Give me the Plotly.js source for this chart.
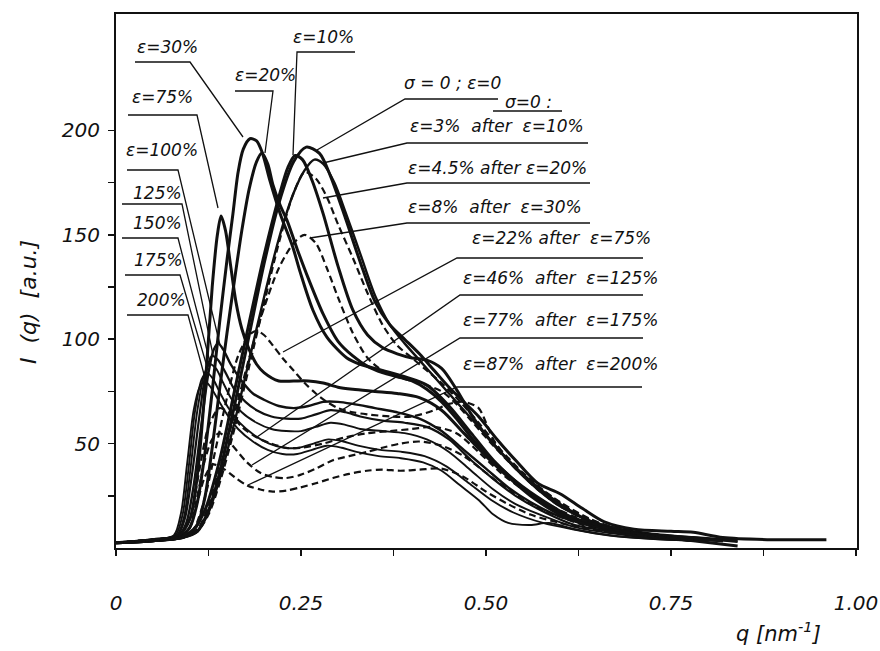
<!DOCTYPE html>
<html><head><meta charset="utf-8">
<script src="https://cdn.plot.ly/plotly-3.0.1.min.js"></script>
<style>html,body{margin:0;padding:0;background:#fff}#chart{width:880px;height:651px}</style>
</head><body><div id="chart"></div>
<script>
// ---- data: q [nm^-1], I(q) [a.u.] ----
const q_eps0 = [0,0.05,0.09,0.11,0.125,0.14,0.16,0.18,0.2,0.22,0.24,0.257,0.275,0.29,0.31,0.33,0.35,0.37,0.39,0.41,0.43,0.45,0.47,0.49,0.515,0.54,0.57,0.6,0.63,0.66,0.7,0.75,0.78,0.82,0.88,0.96];
const I_eps0 = [2.5,3.5,5,8,18,36,68,102,136,165,185,192,189,178,158,137,118,107,100,93,85,77,70,63,52,42,31,26,19,12.5,9,8,7.5,5,4,4];

const q_r3 = [0,0.05,0.09,0.11,0.125,0.14,0.16,0.18,0.2,0.22,0.24,0.255,0.268,0.28,0.295,0.31,0.33,0.35,0.37,0.39,0.41,0.43,0.45,0.48,0.51,0.54,0.57,0.6,0.64,0.68,0.72,0.78,0.84];
const I_r3 = [2.5,3.5,5,8,17,33,60,90,120,148,170,181,186,184,175,161,141,121,107,98,90,82,74,62,50,38,28,20,13,9,7,5,3];

const q_r45 = [0,0.05,0.09,0.11,0.125,0.14,0.16,0.18,0.2,0.22,0.24,0.255,0.27,0.285,0.3,0.32,0.34,0.36,0.38,0.4,0.42,0.44,0.46,0.49,0.52,0.55,0.58,0.62,0.66,0.7,0.76,0.82];
const I_r45 = [2.5,3.5,5,8,16,31,57,87,117,146,170,180,177,168,155,139,122,107,97,91,85,79,72,60,47,36,27,17,11,8,5,3.5];

const q_r8 = [0,0.05,0.09,0.11,0.125,0.14,0.16,0.18,0.2,0.22,0.24,0.255,0.27,0.285,0.3,0.32,0.34,0.36,0.38,0.4,0.42,0.44,0.46,0.48,0.51,0.54,0.57,0.6,0.64,0.68,0.72,0.78];
const I_r8 = [2.5,3.5,5,9,20,38,64,91,115,134,146,150,146,134,120,103,91,85,82,80,78,75,69,61,49,38,28,20,13,9,6,4];

const q_e10 = [0,0.05,0.09,0.105,0.12,0.14,0.16,0.18,0.2,0.22,0.232,0.242,0.252,0.265,0.28,0.3,0.32,0.34,0.36,0.38,0.4,0.42,0.44,0.46,0.48,0.5,0.53,0.56,0.6,0.64,0.68,0.72,0.78,0.84];
const I_e10 = [2.5,3.5,5.5,9,18,42,75,108,140,168,182,188,186,176,160,135,114,102,96,93,91,90,86,76,64,54,42,32,21,13,9,6,3.5,1];

const q_e20 = [0,0.05,0.09,0.1,0.11,0.12,0.13,0.14,0.15,0.16,0.17,0.18,0.19,0.197,0.205,0.212,0.222,0.231,0.245,0.26,0.28,0.3,0.32,0.34,0.36,0.38,0.4,0.42,0.44,0.46,0.48,0.5,0.53,0.56,0.6,0.65,0.7,0.76,0.82];
const I_e20 = [2.5,3.5,5,7,11,24,48,76,103,128,152,172,185,189,184,174,164,157,143,129,112,99,92,87,84,82,80,76,70,62,53,45,35,26,17,11,7.5,5,3.5];

const q_e30 = [0,0.05,0.085,0.1,0.11,0.12,0.13,0.14,0.15,0.158,0.165,0.172,0.181,0.19,0.198,0.208,0.222,0.239,0.249,0.266,0.285,0.312,0.33,0.36,0.39,0.42,0.45,0.48,0.51,0.54,0.58,0.62,0.67,0.72,0.78,0.84];
const I_e30 = [2.5,3.5,5,10,22,45,75,108,138,160,180,191,196,195,189,176,160,144,132,114,101,91,88,85,82,78,68,55,42,32,22,14,9,6.5,5,3.5];

const q_e75 = [0,0.05,0.085,0.1,0.11,0.12,0.13,0.137,0.142,0.148,0.155,0.162,0.17,0.18,0.19,0.2,0.22,0.24,0.26,0.28,0.3,0.32,0.35,0.38,0.41,0.44,0.47,0.5,0.53,0.56,0.6,0.65,0.7,0.76,0.82];
const I_e75 = [2.5,4,6,14,35,75,125,150,159,152,135,118,105,95,88,84,80,80,80,79,77,76,75,74,72,66,55,44,34,25,16,10,7,5,3.5];

const q_e100 = [0,0.05,0.085,0.095,0.105,0.115,0.125,0.132,0.138,0.145,0.155,0.17,0.185,0.2,0.22,0.24,0.26,0.28,0.3,0.32,0.35,0.38,0.41,0.44,0.47,0.5,0.53,0.56,0.6,0.65,0.7,0.76,0.82];
const I_e100 = [2.5,4,6,12,30,58,84,95,98,95,88,80,74,71,68,67,68,70,70,69,67,65,62,56,47,38,29,22,15,10,7,5,3.5];

const q_e125 = [0,0.05,0.083,0.093,0.103,0.113,0.122,0.13,0.138,0.148,0.16,0.175,0.19,0.21,0.23,0.25,0.27,0.29,0.31,0.33,0.36,0.39,0.42,0.45,0.48,0.51,0.54,0.58,0.62,0.67,0.72,0.78];
const I_e125 = [2.5,4,6,14,36,64,85,92,90,84,76,70,66,63,62,62,64,66,65,63,61,60,58,52,42,33,25,17,11,8,6,4];

const q_e150 = [0,0.05,0.082,0.092,0.1,0.11,0.12,0.127,0.135,0.145,0.155,0.17,0.19,0.21,0.23,0.25,0.27,0.29,0.31,0.33,0.36,0.39,0.42,0.45,0.48,0.51,0.54,0.58,0.62,0.67,0.72,0.78];
const I_e150 = [2.5,4,6,15,36,66,84,88,86,79,72,65,60,57,56,56,58,60,59,57,56,55,52,46,37,28,21,15,10,7,5,3.5];

const q_e175 = [0,0.05,0.08,0.09,0.098,0.107,0.116,0.123,0.131,0.141,0.152,0.167,0.187,0.207,0.227,0.247,0.267,0.287,0.307,0.327,0.357,0.387,0.417,0.447,0.477,0.507,0.537,0.577,0.617,0.667,0.717,0.777];
const I_e175 = [2.5,4,6,16,38,66,81,84,81,74,67,60,54,50,48,48,50,52,51,49,47,46,44,39,31,23,17,12,9,6,4.5,3.5];

const q_e200 = [0,0.05,0.078,0.088,0.096,0.105,0.113,0.12,0.128,0.138,0.15,0.165,0.185,0.205,0.225,0.245,0.265,0.285,0.305,0.325,0.355,0.385,0.415,0.44,0.465,0.49,0.51,0.53,0.56,0.585,0.62,0.67,0.72,0.78];
const I_e200 = [2.5,4,6,17,40,66,77,80,77,71,64,57,51,47,45,45,47,49,48,46,44,43,41,37,30,23,16,12,11,12,9,6,4.5,3.5];

const q_r22 = [0,0.05,0.09,0.105,0.12,0.135,0.15,0.165,0.18,0.19,0.2,0.212,0.225,0.24,0.255,0.27,0.285,0.3,0.32,0.34,0.37,0.4,0.43,0.45,0.47,0.49,0.5,0.51,0.53,0.56,0.6,0.64,0.68,0.72,0.78];
const I_r22 = [2.5,3.5,5,9,24,48,72,92,102,104,102,97,91,85,79,74,70,67,65,64,63,63,66,69,70,67,60,52,42,32,22,14,9,6,4];

const q_r46 = [0,0.05,0.085,0.1,0.112,0.125,0.14,0.155,0.17,0.19,0.21,0.23,0.25,0.28,0.31,0.34,0.37,0.4,0.43,0.46,0.49,0.52,0.55,0.6,0.65,0.7,0.76];
const I_r46 = [2.5,4,6,14,36,58,67,64,58,53,50,48,48,50,53,55,56,57,58,55,46,36,28,18,11,7,4.5];

const q_r77 = [0,0.05,0.09,0.1,0.11,0.12,0.13,0.14,0.155,0.177,0.195,0.212,0.23,0.249,0.27,0.293,0.315,0.339,0.36,0.384,0.41,0.44,0.47,0.5,0.53,0.56,0.6,0.64,0.68,0.72,0.78];
const I_r77 = [2.5,4,5.5,10,25,42,52,55,50,41,36,34,33.5,35,38,42,44,46,48,50,51,49,44,36,28,21,15,10,7,5,3.5];

const q_r87 = [0,0.05,0.09,0.1,0.11,0.12,0.131,0.145,0.16,0.177,0.195,0.212,0.23,0.249,0.27,0.293,0.315,0.339,0.36,0.384,0.41,0.44,0.47,0.5,0.53,0.56,0.6,0.64,0.68,0.72,0.78];
const I_r87 = [2.5,4,5.5,10,22,34,40,38,34,30,28,27,27.5,29,31,33.5,35.5,37,37.5,37,37.5,38,34,27,21,16,12,9,7,5.5,4];

const xTickVals = [0,0.125,0.25,0.375,0.5,0.625,0.75,0.875,1.0];
const xTickText = ['0','','0.25','','0.50','','0.75','','1.00'];
const yTickVals = [25,50,75,100,125,150,175,200];
const yTickText = ['','50','','100','','150','','200'];

// ---- drawing ----
const INK = '#111';
const curves = [
  {name:'σ=0; ε=0', q:q_eps0, I:I_eps0, w:3.0, dash:'solid'},
  {name:'ε=3% after ε=10%', q:q_r3, I:I_r3, w:2.4, dash:'solid'},
  {name:'ε=4.5% after ε=20%', q:q_r45, I:I_r45, w:2.2, dash:'7px,4px'},
  {name:'ε=8% after ε=30%', q:q_r8, I:I_r8, w:2.2, dash:'7px,4px'},
  {name:'ε=10%', q:q_e10, I:I_e10, w:3.0, dash:'solid'},
  {name:'ε=20%', q:q_e20, I:I_e20, w:3.0, dash:'solid'},
  {name:'ε=30%', q:q_e30, I:I_e30, w:3.0, dash:'solid'},
  {name:'ε=75%', q:q_e75, I:I_e75, w:3.0, dash:'solid'},
  {name:'ε=100%', q:q_e100, I:I_e100, w:2.4, dash:'solid'},
  {name:'ε=125%', q:q_e125, I:I_e125, w:2.2, dash:'solid'},
  {name:'ε=150%', q:q_e150, I:I_e150, w:1.9, dash:'solid'},
  {name:'ε=175%', q:q_e175, I:I_e175, w:1.9, dash:'solid'},
  {name:'ε=200%', q:q_e200, I:I_e200, w:1.9, dash:'solid'},
  {name:'ε=22% after ε=75%', q:q_r22, I:I_r22, w:2.2, dash:'7px,4px'},
  {name:'ε=46% after ε=125%', q:q_r46, I:I_r46, w:2.2, dash:'7px,4px'},
  {name:'ε=77% after ε=175%', q:q_r77, I:I_r77, w:2.2, dash:'7px,4px'},
  {name:'ε=87% after ε=200%', q:q_r87, I:I_r87, w:2.2, dash:'7px,4px'}
];
const traces = curves.map(c => ({
  type:'scatter', mode:'lines', x:c.q, y:c.I, name:c.name, hoverinfo:'skip',
  line:{color:INK, width:c.w, dash:c.dash, shape:'spline', smoothing:0.8}
}));

// pixel -> data helpers for label geometry (plot area 116..857 x 14..548)
const pq = px => (px - 116) / 740;
const pI = py => (548 - py) / 2.088;

const FONT = 'DejaVu Sans, Verdana, sans-serif';
const labels = [
  ['ε=30%',167,47],['ε=20%',265,75],['ε=10%',323,37],['ε=75%',162,97],['ε=100%',162,150],
  ['125%',157,193],['150%',157,223],['175%',158,260],['200%',161,300],
  ['σ = 0 ; ε=0',452,83],['σ=0 :',528,102],
  ['ε=3%\u00a0 after\u00a0 ε=10%',497,126],['ε=4.5% after ε=20%',497,168],['ε=8%\u00a0 after\u00a0 ε=30%',495,207],
  ['ε=22% after\u00a0 ε=75%',561,238],['ε=46%\u00a0 after\u00a0 ε=125%',560,278],['ε=77%\u00a0 after\u00a0 ε=175%',560,320],['ε=87%\u00a0 after\u00a0 ε=200%',560,364]
];
const annotations = labels.map(([t,x,y]) => ({
  text:'<i>'+t+'</i>', x:pq(x), y:pI(y), xref:'x', yref:'y', showarrow:false,
  xanchor:'center', yanchor:'middle', font:{family:FONT, size:17, color:INK}
}));
annotations.push({text:'<i>I\u00a0 (q)\u00a0 [a.u.]</i>', xref:'paper', yref:'paper', x:(28-116)/741, y:(548-302)/534,
  textangle:-90, showarrow:false, xanchor:'center', yanchor:'middle', font:{family:FONT, size:22, color:INK}});
annotations.push({text:'<i>q [nm<sup>-1</sup>]</i>', xref:'paper', yref:'paper', x:(778-116)/741, y:(548-632)/534,
  showarrow:false, xanchor:'center', yanchor:'middle', font:{family:FONT, size:21, color:INK}});

const leaders = [
  [[135,62],[190,62],[243,137]],
  [[235,91],[273,91],[265,153]],
  [[355,52],[297,52],[293,155]],
  [[128,115],[197,115],[218,208]],
  [[127,170],[178,170],[220,345]],
  [[122,204],[182,204],[213,355]],
  [[122,238],[178,238],[210,362]],
  [[125,275],[180,275],[208,370]],
  [[127,315],[188,315],[205,378]],
  [[498,99],[405,99],[317,150]],
  [[493,111],[562,111]],
  [[588,143],[407,143],[323,163]],
  [[590,183],[407,183],[323,198]],
  [[590,223],[407,223],[310,238]],
  [[643,258],[457,258],[283,352]],
  [[643,295],[460,295],[257,437]],
  [[643,338],[460,338],[252,465]],
  [[642,387],[457,387],[248,485]]
];
const shapes = leaders.map(pts => ({
  type:'path', xref:'x', yref:'y', layer:'above',
  path: pts.map((p,i) => (i ? 'L' : 'M') + pq(p[0]) + ',' + pI(p[1])).join(' '),
  line:{color:INK, width:1.3}
}));

const axisCommon = {showline:true, mirror:true, linecolor:INK, linewidth:2, ticks:'outside',
  tickcolor:INK, tickwidth:1.5, ticklen:6, showgrid:false, zeroline:false,
  tickfont:{family:FONT, size:20, color:INK, style:'italic'}};

const layout = {
  width:880, height:651, margin:{l:116, r:23, t:14, b:103},
  paper_bgcolor:'#fff', plot_bgcolor:'#fff', showlegend:false,
  xaxis:Object.assign({}, axisCommon, {range:[0, 741/740], tickmode:'array', tickvals:xTickVals, ticktext:xTickText, ticklabelstandoff:30}),
  yaxis:Object.assign({}, axisCommon, {range:[0, 534/2.088], tickmode:'array', tickvals:yTickVals, ticktext:yTickText, ticklabelstandoff:4}),
  annotations, shapes
};
Plotly.newPlot('chart', traces, layout, {staticPlot:true, displayModeBar:false});
</script></body></html>
